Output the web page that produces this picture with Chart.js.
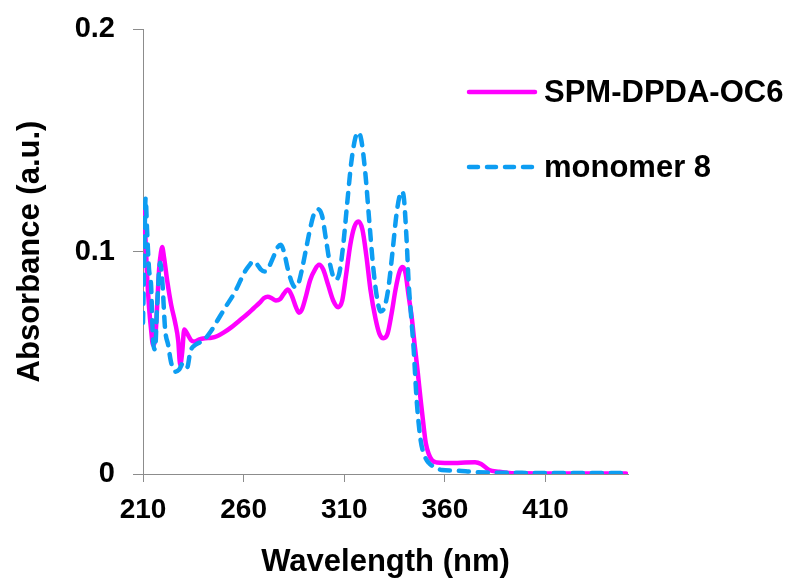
<!DOCTYPE html>
<html>
<head>
<meta charset="utf-8">
<script src="https://cdn.jsdelivr.net/npm/chart.js@4.4.1/dist/chart.umd.min.js"></script>
<style>
  html, body { margin: 0; padding: 0; background: #ffffff; }
  #wrap { width: 795px; height: 581px; }
</style>
</head>
<body>
<div id="wrap"><canvas id="c" width="795" height="581"></canvas></div>
<script>
// ---- Data ----
const seriesNames = ["SPM-DPDA-OC6", "monomer 8"];
const xTickValues = [210, 260, 310, 360, 410];
const yTickValues = [0, 0.1, 0.2];

const polymerWavelength = [210, 211, 212, 213, 214, 215, 216, 217, 218, 219, 219.5, 220.5, 222, 224, 226, 227.5, 228.5, 229.5, 230.5, 232, 234, 235.5, 238, 241, 244, 247, 250, 254, 258, 262, 265, 268, 270, 272, 274, 276, 278, 280, 282, 284, 286, 287.5, 289, 291, 293, 295.5, 297.5, 299.5, 302, 304.5, 307, 309, 311, 313, 315, 317, 319, 321, 323, 325.5, 327.5, 329.5, 331.5, 333.5, 335.5, 337.5, 339, 340.5, 342, 343.5, 345, 346.5, 348, 349.5, 350.5, 352, 353.5, 356, 360, 365, 370, 375, 378, 382, 387, 392, 400, 410, 430, 450];
const polymerAbsorbance = [0.118, 0.11, 0.09, 0.075, 0.065, 0.058, 0.06, 0.075, 0.092, 0.1, 0.102, 0.097, 0.087, 0.076, 0.068, 0.06, 0.049, 0.055, 0.065, 0.063, 0.06, 0.0595, 0.0605, 0.061, 0.0612, 0.062, 0.0635, 0.066, 0.069, 0.072, 0.0745, 0.077, 0.079, 0.0797, 0.079, 0.078, 0.0785, 0.081, 0.0829, 0.08, 0.075, 0.0725, 0.074, 0.08, 0.087, 0.092, 0.094, 0.092, 0.085, 0.078, 0.075, 0.078, 0.09, 0.103, 0.111, 0.1135, 0.11, 0.098, 0.083, 0.07, 0.063, 0.061, 0.063, 0.072, 0.083, 0.091, 0.093, 0.09, 0.08, 0.0707, 0.058, 0.046, 0.033, 0.021, 0.014, 0.009, 0.0063, 0.0052, 0.005, 0.005, 0.0052, 0.0053, 0.0045, 0.0018, 0.001, 0.0005, 0.0003, 0.0002, 0.0002, 0.0002];

const monomerWavelength = [210, 210.5, 211.3, 212, 213, 214, 215, 216, 217, 218.5, 219.5, 221, 222.5, 224, 226, 228, 230, 232, 233.5, 236, 240, 244, 247, 251, 255.5, 259, 261, 263, 264.5, 266, 268.5, 270.5, 272.5, 275, 277, 278.5, 280, 282, 284, 285.5, 287, 289, 291, 293, 295, 297, 299, 301, 303, 305.5, 307.5, 309.5, 311.5, 313.5, 315.5, 317, 318.5, 320.5, 322.5, 324.5, 326.5, 328, 330, 332, 334, 336, 337.5, 338.5, 339.5, 341, 342, 343.5, 344.5, 346, 348, 350, 352, 355, 358.5, 365, 375, 385, 400, 420, 450];
const monomerAbsorbance = [0.068, 0.09, 0.124, 0.11, 0.092, 0.085, 0.06, 0.056, 0.075, 0.095, 0.088, 0.065, 0.058, 0.05, 0.046, 0.047, 0.05, 0.048, 0.055, 0.058, 0.06, 0.0645, 0.069, 0.075, 0.0815, 0.088, 0.0915, 0.094, 0.0955, 0.095, 0.092, 0.091, 0.093, 0.098, 0.102, 0.103, 0.1, 0.092, 0.086, 0.084, 0.085, 0.092, 0.101, 0.11, 0.117, 0.119, 0.116, 0.105, 0.094, 0.0874, 0.09, 0.103, 0.122, 0.14, 0.151, 0.1536, 0.15, 0.135, 0.113, 0.092, 0.078, 0.073, 0.075, 0.084, 0.1, 0.117, 0.125, 0.127, 0.125, 0.105, 0.086, 0.068, 0.056, 0.033, 0.015, 0.008, 0.005, 0.003, 0.0018, 0.0015, 0.0009, 0.0006, 0.0005, 0.0004, 0.0004];

const xMin = 210, xMax = 451;
const yMin = 0, yMax = 0.2;

// ---- Styles ----
const PINK = '#FF00FF';
const BLUE = '#0D9DF2';
const AXIS = '#8C8C8C';
const FONT = "'Liberation Sans', Arial, sans-serif";

function toPoints(xs, ys) { return xs.map((x, i) => ({ x: x, y: ys[i] })); }

const legendPlugin = {
  id: 'customLegend',
  afterDraw(chart) {
    const ctx = chart.ctx;
    const items = [
      { label: seriesNames[0], color: PINK, dash: [], y: 92 },
      { label: seriesNames[1], color: BLUE, dash: [9, 9], y: 167 }
    ];
    ctx.save();
    items.forEach(it => {
      ctx.beginPath();
      ctx.strokeStyle = it.color;
      ctx.lineWidth = 4.5;
      ctx.lineCap = 'round';
      ctx.setLineDash(it.dash);
      ctx.moveTo(469, it.y);
      ctx.lineTo(535, it.y);
      ctx.stroke();
      ctx.setLineDash([]);
      ctx.fillStyle = '#000';
      ctx.font = "bold 31px " + FONT;
      ctx.textBaseline = 'middle';
      ctx.textAlign = 'left';
      ctx.fillText(it.label, 544, it.y + 1);
    });
    ctx.restore();
  }
};

new Chart(document.getElementById('c'), {
  type: 'line',
  data: {
    datasets: [
      {
        label: seriesNames[0],
        data: toPoints(polymerWavelength, polymerAbsorbance),
        borderColor: PINK,
        borderWidth: 4.5,
        pointRadius: 0,
        cubicInterpolationMode: 'monotone',
        borderCapStyle: 'round',
        borderJoinStyle: 'round',
        fill: false,
        order: 1
      },
      {
        label: seriesNames[1],
        data: toPoints(monomerWavelength, monomerAbsorbance),
        borderColor: BLUE,
        borderWidth: 4.5,
        borderDash: [10, 9],
        borderCapStyle: 'round',
        borderJoinStyle: 'round',
        pointRadius: 0,
        cubicInterpolationMode: 'monotone',
        fill: false,
        order: 0
      }
    ]
  },
  options: {
    responsive: false,
    animation: false,
    layout: { padding: { left: 0, right: 167, top: 29, bottom: 0 } },
    plugins: { legend: { display: false }, tooltip: { enabled: false } },
    scales: {
      x: {
        type: 'linear',
        min: xMin,
        max: xMax,
        afterBuildTicks: s => { s.ticks = xTickValues.map(v => ({ value: v })); },
        afterFit: s => { s.height = 107; s.paddingLeft = 0; s.paddingRight = 0; },
        grid: { display: true, drawOnChartArea: false, drawTicks: true, tickLength: 8, color: AXIS, lineWidth: 1 },
        border: { display: true, color: AXIS, width: 1 },
        ticks: { color: '#000', font: { family: FONT, size: 28, weight: 'bold' }, padding: 11, maxRotation: 0, autoSkip: false },
        title: { display: true, text: 'Wavelength (nm)', color: '#000', font: { family: FONT, size: 31, weight: 'bold' }, padding: { top: 5, bottom: 0 } }
      },
      y: {
        type: 'linear',
        min: yMin,
        max: yMax,
        afterBuildTicks: s => { s.ticks = yTickValues.map(v => ({ value: v })); },
        afterFit: s => { s.width = 143; s.paddingTop = 0; s.paddingBottom = 0; },
        grid: { display: true, drawOnChartArea: false, drawTicks: true, tickLength: 10, color: AXIS, lineWidth: 1 },
        border: { display: true, color: AXIS, width: 1 },
        ticks: { color: '#000', font: { family: FONT, size: 29, weight: 'bold' }, padding: 18,
          callback: v => (v === 0 ? '0' : String(Math.round(v * 10) / 10)) },
        title: { display: true, text: 'Absorbance (a.u.)', color: '#000', font: { family: FONT, size: 31, weight: 'bold' }, padding: { top: 12, bottom: 0 } }
      }
    }
  },
  plugins: [legendPlugin]
});
</script>
</body>
</html>
